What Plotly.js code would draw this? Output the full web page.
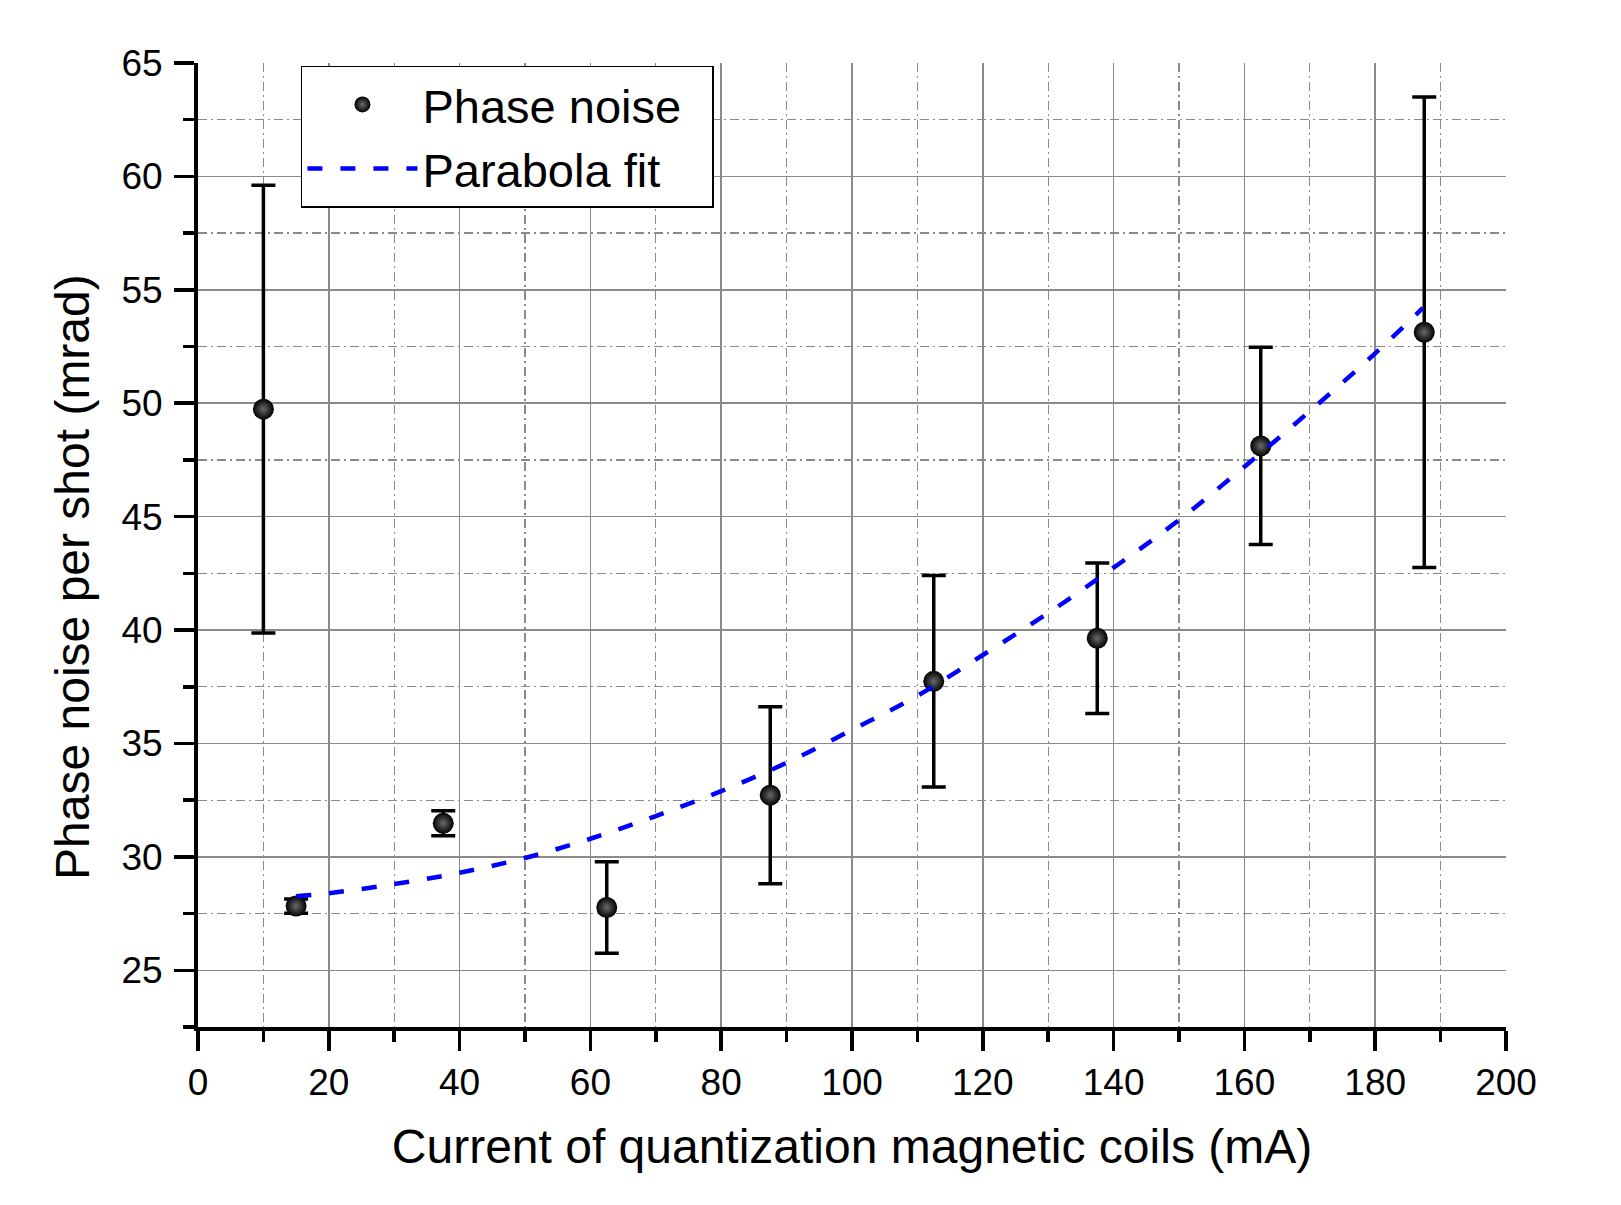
<!DOCTYPE html>
<html>
<head>
<meta charset="utf-8">
<script src="https://cdn.plot.ly/plotly-3.0.1.min.js"></script>
<style>
  html, body { margin: 0; padding: 0; background: #fff; }
  #chart { width: 1621px; height: 1205px; }
</style>
</head>
<body>
<div id="chart"></div>
<script>
// measured points (mA, mrad) with symmetric error bars
const current = [10, 15, 37.5, 62.5, 87.5, 112.5, 137.5, 162.5, 187.5];
const noise = [49.74, 27.83, 31.48, 27.77, 32.72, 37.74, 39.64, 48.12, 53.13];
const noiseErr = [9.87, 0.31, 0.55, 2.02, 3.9, 4.66, 3.32, 4.35, 10.37];

// parabola fit
const fitX = [15, 20, 30, 40, 50, 60, 70, 80, 90, 100, 110, 120, 130, 140, 150, 160, 170, 180, 187.3];
const fitY = [28.27, 28.4, 28.8, 29.3, 29.95, 30.8, 31.8, 32.9, 34.15, 35.6, 37.1, 38.9, 40.75, 42.75, 44.85, 47.2, 49.65, 52.2, 54.2];

const FONT = 'Arial, "Liberation Sans", sans-serif';
const gridGray = '#8a8a8a';

const traces = [
  {
    x: current, y: noise, name: 'Phase noise\u00a0\u00a0',
    type: 'scatter', mode: 'markers',
    marker: { size: 21, color: '#000', gradient: { type: 'radial', color: '#6a6a6a' } },
    error_y: { type: 'data', array: noiseErr, visible: true, color: '#000', thickness: 3.5, width: 12 }
  },
  {
    x: fitX, y: fitY, name: 'Parabola fit',
    type: 'scatter', mode: 'lines',
    line: { color: '#0000ff', width: 4.5, dash: '15px,18px', shape: 'spline' }
  }
];

function axis(range, dtick, minorDtick, title, standoff) {
  return {
    range: range, dtick: dtick, tick0: 0,
    showline: true, linewidth: 4, linecolor: '#000',
    ticks: 'outside', ticklen: 20, tickwidth: 3.5, tickcolor: '#000',
    tickfont: { family: FONT, size: 37, color: '#000' },
    showgrid: true, gridcolor: gridGray, gridwidth: 1.5,
    zeroline: false,
    minor: {
      dtick: minorDtick, ticks: 'outside', ticklen: 11, tickwidth: 3.5, tickcolor: '#000',
      showgrid: true, gridcolor: gridGray, gridwidth: 1.3, griddash: '9px,4px,2px,4px'
    },
    title: { text: title, font: { family: FONT, size: 48, color: '#000' }, standoff: standoff }
  };
}

const xaxis = axis([0, 200], 20, 10, 'Current of quantization magnetic coils (mA)', 28);
const yaxis = axis([22.5, 65], 5, 2.5, '', 0);
yaxis.ticklabelstandoff = 4;

const layout = {
  width: 1621, height: 1205,
  margin: { l: 198, r: 115, t: 63, b: 178 },
  paper_bgcolor: '#fff', plot_bgcolor: '#fff',
  font: { family: FONT, color: '#000' },
  showlegend: true,
  legend: {
    x: 0.0787, y: 0.997, xanchor: 'left', yanchor: 'top',
    bgcolor: '#fff', bordercolor: '#000', borderwidth: 1.5,
    font: { family: FONT, size: 47, color: '#000' },
    itemwidth: 110, tracegroupgap: 0
  },
  xaxis: xaxis,
  yaxis: yaxis,
  // y title placed as in the original, a little below the axis middle
  annotations: [{
    text: 'Phase noise per shot (mrad)',
    xref: 'paper', yref: 'paper', x: -0.0955, y: 0.467,
    xanchor: 'center', yanchor: 'middle', textangle: -90, showarrow: false,
    font: { family: FONT, size: 48, color: '#000' }
  }]
};

Plotly.newPlot('chart', traces, layout, { displayModeBar: false, staticPlot: true });
</script>
</body>
</html>
